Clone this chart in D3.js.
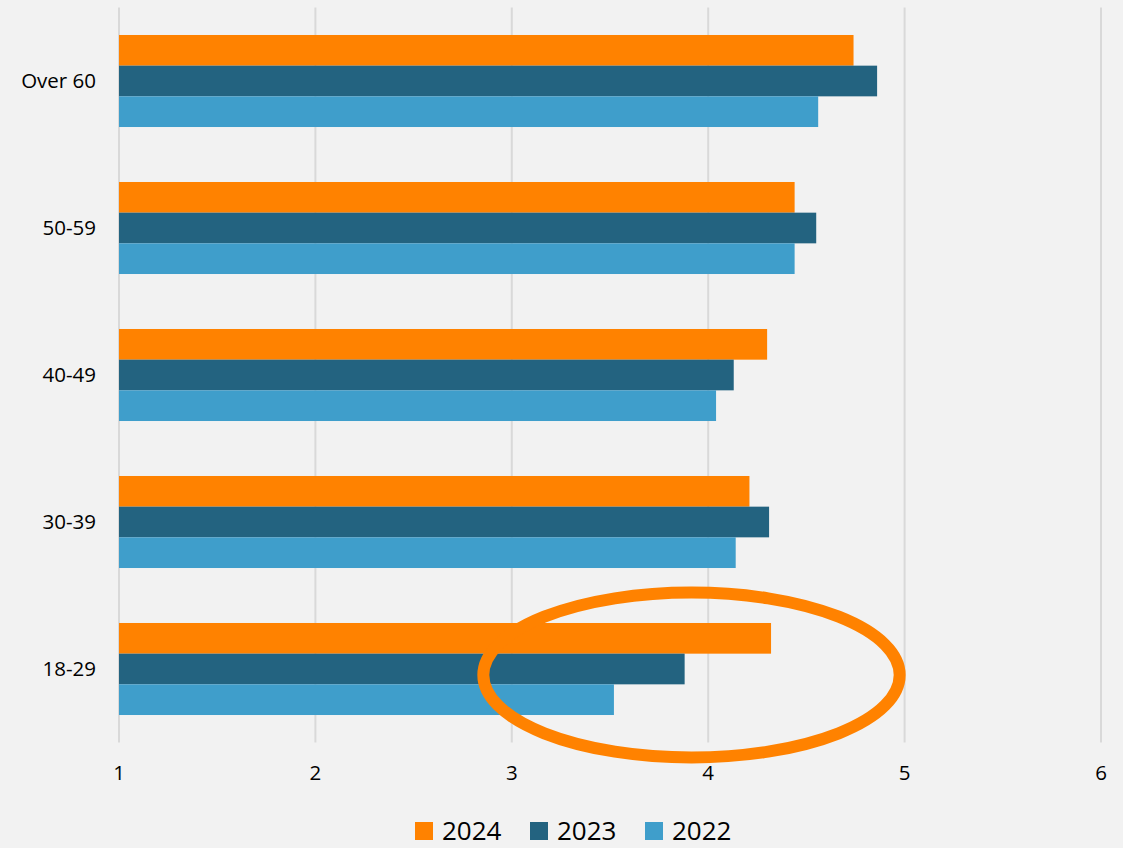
<!DOCTYPE html>
<html lang="en">
<head>
    <meta charset="UTF-8">
    <title>Age groups 2022-2024</title>
    <script src="https://d3js.org/d3.v7.min.js"></script>
    <style>
        body { margin: 0; background: #f2f2f2; overflow: hidden; }
        text { font-family: "Open Sans", "Liberation Sans", sans-serif; fill: #000; }
    </style>
</head>
<body>
    <script>
        const width = 1123;
        const height = 848;

        // data
        const categories = ["Over 60", "50-59", "40-49", "30-39", "18-29"];
        const years = ["2024", "2023", "2022"];
        const values2024 = [4.74, 4.44, 4.30, 4.21, 4.32];
        const values2023 = [4.86, 4.55, 4.13, 4.31, 3.88];
        const values2022 = [4.56, 4.44, 4.04, 4.14, 3.52];
        const xTicks = [1, 2, 3, 4, 5, 6];
        const colors = ["#ff8200", "#236380", "#3f9ecb"];

        const series = [values2024, values2023, values2022];

        const margin = { left: 119, right: 22, top: 7.5, bottom: 105.5 };

        const svg = d3.select("body").append("svg")
            .attr("width", width)
            .attr("height", height);

        const x = d3.scaleLinear()
            .domain([1, 6])
            .range([margin.left, width - margin.right]);

        const y = d3.scaleBand()
            .domain(categories)
            .range([margin.top, height - margin.bottom])
            .paddingInner(0.374)
            .paddingOuter(0.187);

        const yInner = d3.scaleBand()
            .domain(years)
            .range([0, y.bandwidth()]);

        // gridlines
        svg.append("g")
            .selectAll("line")
            .data(xTicks)
            .enter().append("line")
            .attr("x1", d => x(d)).attr("x2", d => x(d))
            .attr("y1", margin.top).attr("y2", height - margin.bottom)
            .attr("stroke", "#d9d9d9")
            .attr("stroke-width", 2);

        // bars
        const groups = svg.append("g")
            .selectAll("g")
            .data(categories)
            .enter().append("g")
            .attr("transform", d => `translate(0,${y(d)})`);

        groups.selectAll("rect")
            .data((c, i) => years.map((yr, j) => ({ yr, v: series[j][i], color: colors[j] })))
            .enter().append("rect")
            .attr("x", x(1))
            .attr("y", d => yInner(d.yr))
            .attr("width", d => x(d.v) - x(1))
            .attr("height", yInner.bandwidth())
            .attr("fill", d => d.color);

        // category labels
        svg.append("g")
            .selectAll("text")
            .data(categories)
            .enter().append("text")
            .attr("x", margin.left - 23)
            .attr("y", d => y(d) + y.bandwidth() / 2)
            .attr("dy", "0.35em")
            .attr("text-anchor", "end")
            .attr("font-size", 20.5)
            .text(d => d);

        // x tick labels
        svg.append("g")
            .selectAll("text")
            .data(xTicks)
            .enter().append("text")
            .attr("x", d => x(d))
            .attr("y", 780)
            .attr("text-anchor", "middle")
            .attr("font-size", 20.5)
            .text(d => d);

        // highlight ellipse around the 18-29 group
        const cx = 3.915;
        const cy = y("18-29") + y.bandwidth() / 2 + 6;
        svg.append("ellipse")
            .attr("cx", x(cx))
            .attr("cy", cy)
            .attr("rx", x(cx + 1.06) - x(cx))
            .attr("ry", y.step() * 0.561)
            .attr("fill", "none")
            .attr("stroke", "#ff8200")
            .attr("stroke-width", 12);

        // legend
        const legendX = [415, 530, 645];
        const legend = svg.append("g")
            .selectAll("g")
            .data(years)
            .enter().append("g")
            .attr("transform", (d, i) => `translate(${legendX[i]},822)`);

        legend.append("rect")
            .attr("width", 18).attr("height", 18)
            .attr("fill", (d, i) => colors[i]);

        legend.append("text")
            .attr("x", 27)
            .attr("y", 9)
            .attr("dy", "0.36em")
            .attr("font-size", 26)
            .text(d => d);
    </script>
</body>
</html>
